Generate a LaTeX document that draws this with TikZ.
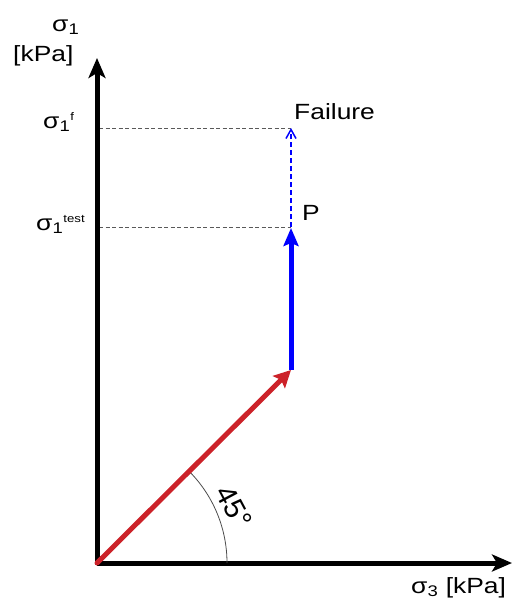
\documentclass[tikz,border=0pt]{standalone}
\usepackage{fontspec}
\setmainfont{Liberation Sans}
\usetikzlibrary{arrows.meta}
\begin{document}
\begin{tikzpicture}[x=1pt,y=-1pt,
  axis/.style={line width=5pt,-{Stealth[length=20pt,width=17pt,inset=5pt]}},
  lbl/.style={font=\fontsize{22}{24}\selectfont,inner sep=0pt,anchor=base west,xscale=1.2},
  guide/.style={gray!70!black,dashed,line width=0.8pt,dash pattern=on 4pt off 2.5pt}]
\useasboundingbox (0,0) rectangle (512,600);
\coordinate (O) at (97,563);
\coordinate (Ytop) at (97,58);
\coordinate (Xend) at (512,563);
\coordinate (A) at (291,370);
\coordinate (P) at (291,227);
\coordinate (F) at (291,128);
\coordinate (Fl) at (99,128);
\coordinate (Pl) at (99,227);
\coordinate (Xarc) at (227,563);
% guides
\draw[guide] (Fl) -- (F);
\draw[guide] (Pl) -- (P);
% dashed blue
\draw[blue,line width=1.5pt,dash pattern=on 5pt off 3pt,-{Straight Barb[length=9pt,width=10pt]}] (P) -- (F);
% axes
\draw[axis] (O) -- (Ytop);
\draw[axis] (O) -- (Xend);
% arc
\draw[gray!60!black,line width=0.8pt] (Xarc) arc[start angle=0,end angle=-45,radius=130];
\node[font=\fontsize{29}{31}\selectfont,inner sep=0pt,rotate=-62] (ang) at (234,507) {45°};
% red arrow
\draw[color={rgb,255:red,204;green,34;blue,41},line width=5pt,line cap=round,-{Stealth[length=17pt,width=17pt,inset=3pt]}] (O) -- (A);
% blue arrow
\draw[blue,line width=5pt,-{Stealth[length=18pt,width=15pt,inset=3pt]}] (A) -- ([yshift=-1pt]P);
% labels
\node[lbl] (s1) at (52,31) {σ\textsubscript{1}};
\node[lbl] (kpa) at (13,61) {[kPa]};
\node[lbl] (s1f) at (43,128) {σ\textsubscript{1}\textsuperscript{\fontsize{11}{12}\selectfont f}};
\node[lbl] (s1t) at (36,230) {σ\textsubscript{1}\textsuperscript{\fontsize{11}{12}\selectfont test}};
\node[lbl] (fail) at (294,119) {Failure};
\node[lbl] (Pn) at (302,220) {P};
\node[lbl] (s3) at (411,593) {σ\textsubscript{3} [kPa]};
\end{tikzpicture}
\end{document}
